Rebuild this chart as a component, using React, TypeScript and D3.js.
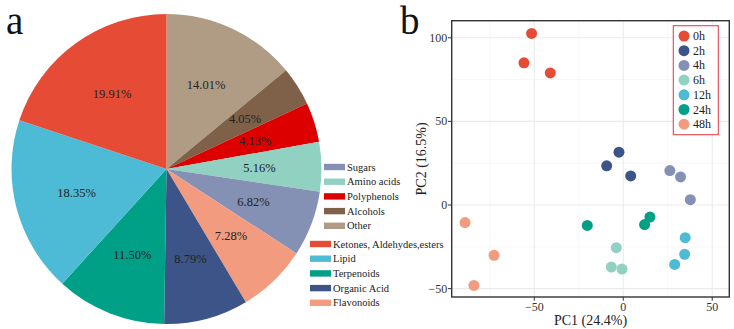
import React from "react";
import * as d3 from "d3";

// Pie data (clockwise from 12 o'clock)
const pieCategories = ["Other", "Alcohols", "Polyphenols", "Amino acids", "Sugars", "Flavonoids", "Organic Acid", "Terpenoids", "Lipid", "Ketones, Aldehydes,esters"];
const pieValues = [14.01, 4.05, 4.13, 5.16, 6.82, 7.28, 8.79, 11.5, 18.35, 19.91];
const pieColors = ["#B09C85", "#7E6148", "#DC0000", "#91D1C2", "#8491B4", "#F39B7F", "#3C5488", "#00A087", "#4DBBD5", "#E64B35"];
const legendGroup1 = ["Sugars", "Amino acids", "Polyphenols", "Alcohols", "Other"];
const legendGroup2 = ["Ketones, Aldehydes,esters", "Lipid", "Terpenoids", "Organic Acid", "Flavonoids"];

// PCA data
const groups = ["0h", "2h", "4h", "6h", "12h", "24h", "48h"];
const groupColors = ["#E64B35", "#3C5488", "#8491B4", "#91D1C2", "#4DBBD5", "#00A087", "#F39B7F"];
const pc1 = [
  [-51.5, -55.8, -41],
  [-2.4, -9.3, 4.2],
  [26.2, 32.2, 37.7],
  [-3.9, -6.7, -0.7],
  [34.8, 34.5, 28.9],
  [-20.2, 15, 12],
  [-88.9, -72.6, -83.9],
];
const pc2 = [
  [102.6, 85, 79],
  [31.6, 23.4, 17.4],
  [20.6, 16.8, 3.2],
  [-25.5, -37.1, -38.3],
  [-19.5, -29.5, -35.5],
  [-12.2, -7.2, -11.7],
  [-10.5, -30.1, -48.1],
];
const xTicks = [-50, 0, 50];
const yTicks = [-50, 0, 50, 100];
const xMinor = [-75, -25, 25];
const yMinor = [-25, 25, 75];

const FONT = "Liberation Serif";
const ts = { fontFamily: FONT };

export default function App() {
  const cx = 166.5, cy = 169, r = 155;
  const pie = d3.pie<number>().sort(null).value((d) => d);
  const arcs = pie(pieValues);
  const arc = d3.arc<d3.PieArcDatum<number>>().innerRadius(0).outerRadius(r);
  const labelArc = d3.arc<d3.PieArcDatum<number>>().innerRadius(r * 0.6).outerRadius(r * 0.6);

  const colorOf = (name: string) => pieColors[pieCategories.indexOf(name)];

  // PCA panel
  const pl = 451.7, pr = 729.3, pt = 20.7, pb = 297;
  const x = d3.scaleLinear().domain([-96.4, 59.6]).range([pl, pr]);
  const y = d3.scaleLinear().domain([-55, 110.2]).range([pb, pt]);
  const fmt = (v: number) => (v < 0 ? "\u2212" + Math.abs(v) : String(v));

  return (
    <svg width={734} height={329} style={{ position: "absolute", left: 0, top: 0, background: "#fff" }}>
      {/* Panel a */}
      <text x={6} y={34} fontSize={39} fill="#111" style={ts}>a</text>
      <g transform={`translate(${cx},${cy})`}>
        {arcs.map((a, i) => (
          <path key={i} d={arc(a) || ""} fill={pieColors[i]} />
        ))}
        {arcs.map((a, i) => {
          const [lx, ly] = labelArc.centroid(a);
          return (
            <text key={"l" + i} x={lx} y={ly} fontSize={12.5} textAnchor="middle" dominantBaseline="central" fill="#222" style={ts}>
              {pieValues[i].toFixed(2)}%
            </text>
          );
        })}
      </g>
      {legendGroup1.map((name, i) => (
        <g key={name} transform={`translate(324,${167 + i * 14.7})`}>
          <rect x={0} y={-3.2} width={21} height={6.4} fill={colorOf(name)} />
          <text x={23} y={0} fontSize={10.5} dominantBaseline="central" fill="#222" style={ts}>{name}</text>
        </g>
      ))}
      {legendGroup2.map((name, i) => (
        <g key={name} transform={`translate(310,${244 + i * 14.7})`}>
          <rect x={0} y={-3.2} width={21} height={6.4} fill={colorOf(name)} />
          <text x={23} y={0} fontSize={10.5} dominantBaseline="central" fill="#222" style={ts}>{name}</text>
        </g>
      ))}

      {/* Panel b */}
      <text x={400} y={34} fontSize={39} fill="#111" style={ts}>b</text>
      <rect x={pl} y={pt} width={pr - pl} height={pb - pt} fill="#fff" />
      {xMinor.map((v) => (
        <line key={"xm" + v} x1={x(v)} x2={x(v)} y1={pt} y2={pb} stroke="#F2F2F2" strokeWidth={0.6} />
      ))}
      {yMinor.map((v) => (
        <line key={"ym" + v} x1={pl} x2={pr} y1={y(v)} y2={y(v)} stroke="#F2F2F2" strokeWidth={0.6} />
      ))}
      {xTicks.map((v) => (
        <line key={"xg" + v} x1={x(v)} x2={x(v)} y1={pt} y2={pb} stroke="#EBEBEB" strokeWidth={1.1} />
      ))}
      {yTicks.map((v) => (
        <line key={"yg" + v} x1={pl} x2={pr} y1={y(v)} y2={y(v)} stroke="#EBEBEB" strokeWidth={1.1} />
      ))}
      {groups.map((g, gi) =>
        pc1[gi].map((vx, k) => (
          <circle key={g + k} cx={x(vx)} cy={y(pc2[gi][k])} r={5.5} fill={groupColors[gi]} />
        ))
      )}
      <rect x={pl} y={pt} width={pr - pl} height={pb - pt} fill="none" stroke="#333" strokeWidth={1.4} />
      {xTicks.map((v) => (
        <g key={"xt" + v}>
          <line x1={x(v)} x2={x(v)} y1={pb} y2={pb + 3.7} stroke="#333" strokeWidth={1} />
          <text x={x(v)} y={pb + 9.5} fontSize={12} textAnchor="middle" dominantBaseline="central" fill="#333" style={ts}>
            {fmt(v)}
          </text>
        </g>
      ))}
      {yTicks.map((v) => (
        <g key={"yt" + v}>
          <line x1={pl - 3.7} x2={pl} y1={y(v)} y2={y(v)} stroke="#333" strokeWidth={1} />
          <text x={pl - 4.5} y={y(v)} fontSize={12} textAnchor="end" dominantBaseline="central" fill="#333" style={ts}>
            {fmt(v)}
          </text>
        </g>
      ))}
      <text x={(pl + pr) / 2} y={320.5} fontSize={14} textAnchor="middle" dominantBaseline="central" fill="#222" style={ts}>PC1 (24.4%)</text>
      <text transform={`translate(421.5,${(pt + pb) / 2}) rotate(-90)`} fontSize={14} textAnchor="middle" dominantBaseline="central" fill="#222" style={ts}>PC2 (16.5%)</text>

      {/* legend */}
      <rect x={673.3} y={25.7} width={45} height={109} fill="#fff" stroke="#E5474F" strokeWidth={1.1} />
      {groups.map((g, i) => (
        <g key={"lg" + g} transform={`translate(684,${36 + i * 14.7})`}>
          <circle cx={0} cy={0} r={5.5} fill={groupColors[i]} />
          <text x={9} y={0} fontSize={12} dominantBaseline="central" fill="#222" style={ts}>{g}</text>
        </g>
      ))}
    </svg>
  );
}
